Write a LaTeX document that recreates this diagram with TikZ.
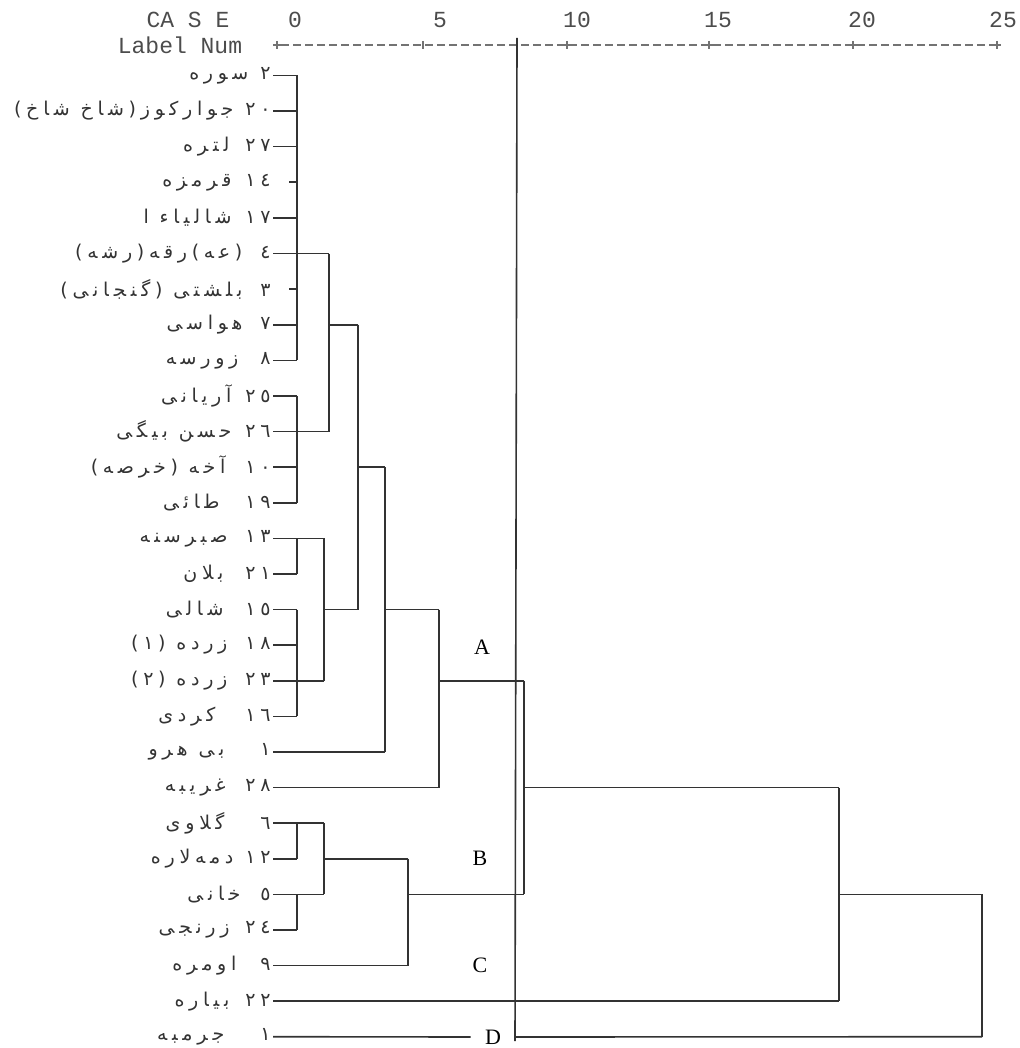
\documentclass[tikz,border=0pt]{standalone}
\usepackage{fontspec}
\setmainfont{Liberation Serif}
\newfontfamily\farsi[Script=Arabic,LetterSpace=25]{DejaVu Sans}
\newfontfamily\typew{Liberation Mono}
\TeXXeTstate=1
\usetikzlibrary{calc}
\newcommand{\caselbl}[4]{\farsi\beginR #1\hspace{#3}#2\endR\hspace{#4}}

\begin{document}
\begin{tikzpicture}[x=0.5pt,y=-0.5pt,
    tree/.style={black!80,line width=0.8pt},
    axisline/.style={black!55,line width=0.6pt},
    rowlbl/.style={anchor=east,inner sep=1pt,text=black!80,font=\fontsize{9.5}{11}\selectfont},
    axislbl/.style={inner sep=0pt,text=black!70,font=\typew\fontsize{11.5}{13}\selectfont},
    grouplbl/.style={inner sep=0pt,font=\fontsize{11}{13}\selectfont}]
    \useasboundingbox (0,0) rectangle (1020,1048);

    % Axis header
    \node[axislbl] (casehd) at (188,20) {CA S E};
    \node[axislbl] (labnum) at (180,45) {Label Num};
    \foreach \x/\v in {295/0,440/5,577/10,718/15,862/20,1003/25} {
        \node[axislbl] (t\v) at (\x,20) {\v};
    }
    \draw[axisline,dash pattern=on 4pt off 2pt] (281,45) -- (993,45);
    \foreach \x in {277,567,709,853,997} {
        \draw[axisline] (\x-4,45) -- (\x+4,45) (\x,41) -- (\x,49);
    }
    \draw[axisline] (423,41) -- (423,49);

    % Case labels (number, gap, name, tail)
    \foreach \i/\num/\name/\gap/\tail in {
        1/٢/سوره/6pt/0pt,
        2/٢٠/جوارکوز(شاخ شاخ)/6pt/0pt,
        3/٢٧/لتره/8pt/0pt,
        4/١٤/قرمزه/7pt/0pt,
        5/١٧/شالیاء ا/7pt/0pt,
        6/٤/(عه)رقه(رشه)/9pt/0pt,
        7/٣/بلشتی (گنجانی)/9pt/0pt,
        8/٧/هواسی/9pt/0pt,
        9/٨/زورسه/11pt/0pt,
        10/٢٥/آریانی/7pt/0pt,
        11/٢٦/حسن بیگی/7pt/0pt,
        12/١٠/آخه (خرصه)/10pt/0pt,
        13/١٩/طائی/13pt/0pt,
        14/١٣/صبرسنه/9pt/0pt,
        15/٢١/بلان/11pt/0pt,
        16/١٥/شالی/11pt/0pt,
        17/١٨/زرده (١)/9pt/0pt,
        18/٢٣/زرده (٢)/9pt/0pt,
        19/١٦/کردی/15pt/0pt,
        20/١/بی هرو/18pt/0pt,
        21/٢٨/غریبه/10pt/0pt,
        22/٦/گلاوی/18pt/0pt,
        23/١٢/دمه‌لاره/6pt/0pt,
        24/٥/خانی/10pt/0pt,
        25/٢٤/زرنجی/8pt/0pt,
        26/٩/اومره/12pt/8pt,
        27/٢٢/بیاره/8pt/0pt,
        28/١/جرمبه/18pt/8pt} {
        \node[rowlbl] (r\i) at (273,{75.5+(\i-1)*35.6}) {\caselbl{\num}{\name}{\gap}{\tail}};
    }

    % Merge levels
    \coordinate (xa) at (297,0);
    \coordinate (xq) at (324,0);
    \coordinate (xb) at (329,0);
    \coordinate (xc) at (358,0);
    \coordinate (xd) at (385,0);
    \coordinate (xg) at (408,0);
    \coordinate (xe) at (439,0);
    \coordinate (xf) at (524,0);
    \coordinate (xh) at (839,0);
    \coordinate (xi) at (982,0);

    % Leaves
    \foreach \i/\m in {1/xa,2/xa,3/xa,5/xa,6/xb,8/xa,9/xa,10/xa,11/xb,12/xa,13/xa,
        14/xq,15/xa,16/xa,17/xa,18/xq,19/xa,20/xd,21/xe,22/xq,23/xa,24/xq,25/xa,
        26/xg,27/xh} {
        \draw[tree] (r\i.east) -- (r\i -| \m);
    }
    \foreach \i in {4,7} {
        \draw[tree] ([xshift=8pt]r\i.east) -- (r\i -| xa);
    }
    \node[grouplbl] (lblD) at (493,1037) {D};
    \draw[tree] (r28.east) -- ([xshift=-7pt]lblD.west);
    \draw[tree] ([xshift=7pt]lblD.east) -- (r28 -| xi);

    % Vertical bars
    \draw[tree] (r1 -| xa) -- (r9 -| xa);
    \draw[tree] (r10 -| xa) -- (r13 -| xa);
    \draw[tree] (r14 -| xa) -- (r15 -| xa);
    \draw[tree] (r16 -| xa) -- (r19 -| xa);
    \draw[tree] (r22 -| xa) -- (r23 -| xa);
    \draw[tree] (r24 -| xa) -- (r25 -| xa);
    \draw[tree] (r6 -| xb) -- (r11 -| xb);
    \draw[tree] (r14 -| xq) -- (r18 -| xq);
    \draw[tree] (r22 -| xq) -- (r24 -| xq);
    \draw[tree] (r8 -| xc) -- (r16 -| xc);
    \draw[tree] (r12 -| xd) -- (r20 -| xd);
    \draw[tree] (r16 -| xe) -- (r21 -| xe);
    \draw[tree] (r23 -| xg) -- (r26 -| xg);
    \draw[tree] (r18 -| xf) -- (r24 -| xf);
    \draw[tree] (r21 -| xh) -- (r27 -| xh);
    \draw[tree] (r24 -| xi) -- (r28 -| xi);

    % Links between clusters
    \draw[tree] (r8 -| xb) -- (r8 -| xc);
    \draw[tree] (r16 -| xq) -- (r16 -| xc);
    \draw[tree] (r12 -| xc) -- (r12 -| xd);
    \draw[tree] (r16 -| xd) -- (r16 -| xe);
    \draw[tree] (r18 -| xe) -- (r18 -| xf);
    \draw[tree] (r23 -| xq) -- (r23 -| xg);
    \draw[tree] (r24 -| xg) -- (r24 -| xf);
    \draw[tree] (r21 -| xf) -- (r21 -| xh);
    \draw[tree] (r24 -| xh) -- (r24 -| xi);

    % Cut line and group letters
    \coordinate (cutT) at (517,38);
    \coordinate (cutB) at (515,1041);
    \draw[tree] (cutT) -- (cutB);
    \node[grouplbl] (lblA) at (482,647) {A};
    \node[grouplbl] (lblB) at (480,858) {B};
    \node[grouplbl] (lblC) at (480,965) {C};
\end{tikzpicture}
\end{document}
